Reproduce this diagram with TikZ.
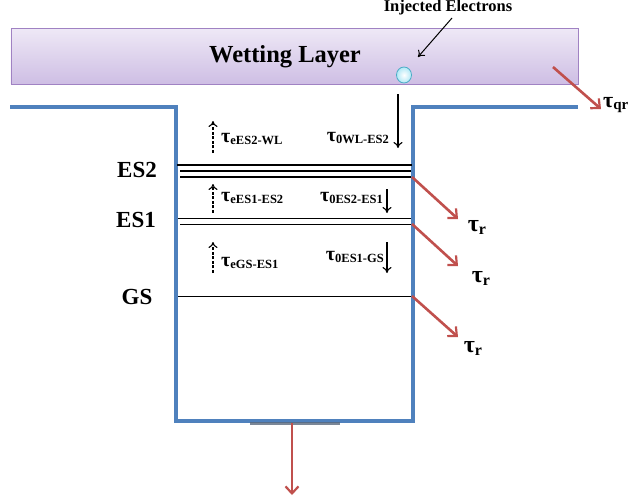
\documentclass[tikz,border=0pt]{standalone}
\usepackage{fontspec}
\setmainfont{Liberation Serif}
\usetikzlibrary{arrows.meta,shapes.geometric}

\definecolor{wellblue}{RGB}{79,129,189}
\definecolor{rateRed}{RGB}{192,80,77}
\definecolor{wlTop}{RGB}{238,232,246}
\definecolor{wlBot}{RGB}{206,190,228}
\definecolor{wlEdge}{RGB}{160,130,195}
\definecolor{elFill}{RGB}{176,232,246}
\definecolor{elEdge}{RGB}{75,172,198}
\definecolor{padGray}{RGB}{90,105,125}

% tau with a bold subscript, lowered by the optional argument
\newcommand{\taus}[4][0.22em]{{\fontsize{#2}{#2}\selectfont τ}\raisebox{-#1}{\fontsize{#3}{#3}\selectfont #4}}

\tikzset{
  well/.style={draw=wellblue, line width=3.2pt, line join=miter},
  level/.style={draw=black, line width=1.4pt},
  rate/.style={draw=rateRed, line width=2.6pt, -{Straight Barb[length=7pt,width=13pt,line width=2.2pt]}},
  capture/.style={draw=black, line width=1.1pt, -{To[length=6pt,width=9pt]}},
  escape/.style={draw=black, line width=1.1pt, dash pattern=on 3pt off 1.6pt, -{To[length=6pt,width=9pt]}},
  lab/.style={font=\bfseries, inner sep=0pt},
  statelab/.style={font=\bfseries\fontsize{23}{23}\selectfont, inner sep=0pt}
}

\begin{document}
\begin{tikzpicture}[x=1pt, y=-1pt]
\useasboundingbox (0,0) rectangle (629,503);
\clip (0,0) rectangle (629,503);

% wetting layer
\node[draw=wlEdge, line width=0.8pt, top color=wlTop, bottom color=wlBot,
      minimum width=567pt, minimum height=55pt, inner sep=0pt, anchor=north west]
      (wl) at (10.5,28.5) {};
\node[lab, font=\bfseries\fontsize{24.5}{24.5}\selectfont] (wltext) at (285,57) {Wetting Layer};

% injected electron
\node[ellipse, draw=elEdge, line width=0.8pt, inner color=white, outer color=elFill,
      minimum width=15pt, minimum height=16pt, inner sep=0pt] (el) at (404,75) {};
\node[lab, font=\bfseries\fontsize{16.5}{16.5}\selectfont] (inj) at (448,8) {Injected Electrons};
\coordinate (injtail) at (452,18);
\draw[black, line width=1pt, -{To[length=6pt,width=9pt]}] (injtail) -- (418,57);

% quantum well profile
\coordinate (tl) at (10,107);
\coordinate (cl) at (176,107);
\coordinate (bl) at (176,421);
\coordinate (br) at (413,421);
\coordinate (cr) at (413,107);
\coordinate (tr) at (578,107);
\draw[well] (tl) -- (cl) -- (bl) -- (br) -- (cr) -- (tr);
\draw[padGray, line width=3pt, opacity=0.8] (250,423) -- (340,423);

% confined levels
\draw[level] (177,165) -- (412,165);
\draw[level] (180,171) -- (411,171);
\draw[level] (180,177) -- (411,177);
\draw[level] (178,218.5) -- (411,218.5);
\draw[level] (180,224.5) -- (411,224.5);
\draw[level] (178,296.5) -- (411,296.5);

\node[statelab] (es2) at (137,170) {ES2};
\node[statelab] (es1) at (136,220) {ES1};
\node[statelab] (gs)  at (137,297) {GS};

% capture from the wetting layer
\coordinate (capt) at (398,94);
\coordinate (caph) at (398,148);
\draw[capture] (capt) -- (caph);
\node[lab, anchor=base east] (t0wl) at (389,141) {\taus{20}{12.5}{0WL-ES2}};

% relaxation down the ladder
\coordinate (r1t) at (387,189);
\coordinate (r1h) at (387,213);
\draw[capture] (r1t) -- (r1h);
\node[lab, anchor=base east] (t0es2) at (383,201) {\taus{20}{12.5}{0ES2-ES1}};
\coordinate (r2t) at (387,242);
\coordinate (r2h) at (387,273);
\draw[capture] (r2t) -- (r2h);
\node[lab, anchor=base east] (t0es1) at (384,260) {\taus{20}{12.5}{0ES1-GS}};

% thermal escape
\coordinate (e1t) at (213,153);
\coordinate (e1h) at (213,121);
\draw[escape] (e1t) -- (e1h);
\node[lab, anchor=base west] (tees2) at (221,142) {\taus{20}{12.5}{eES2-WL}};
\coordinate (e2t) at (213,213);
\coordinate (e2h) at (213,184);
\draw[escape] (e2t) -- (e2h);
\node[lab, anchor=base west] (tees1) at (221,201) {\taus{20}{12.5}{eES1-ES2}};
\coordinate (e3t) at (213,273);
\coordinate (e3h) at (213,242);
\draw[escape] (e3t) -- (e3h);
\node[lab, anchor=base west] (tegs) at (221,266) {\taus{20}{12.5}{eGS-ES1}};

% radiative recombination
\coordinate (s2) at (412,177);
\coordinate (s1) at (412,224);
\coordinate (s0) at (412,296);
\coordinate (h2) at (458,219);
\coordinate (h1) at (458,266);
\coordinate (h0) at (458,337);
\draw[rate] (s2) -- (h2);
\draw[rate] (s1) -- (h1);
\draw[rate] (s0) -- (h0);
\node[lab] (tr2) at (477,227) {\taus[0.3em]{24}{16}{r}};
\node[lab] (tr1) at (481,278) {\taus[0.3em]{24}{16}{r}};
\node[lab] (tr0) at (473,348) {\taus[0.3em]{24}{16}{r}};

% wetting-layer loss
\coordinate (qs) at (553,67);
\coordinate (qh) at (601,109);
\draw[rate] (qs) -- (qh);
\node[lab, anchor=base west] (tq) at (603,107) {\taus{22}{15}{qr}};

% escape through the barrier
\coordinate (bs) at (292,423);
\coordinate (bh) at (292,495);
\draw[rate] (bs) -- (bh);
\end{tikzpicture}
\end{document}
